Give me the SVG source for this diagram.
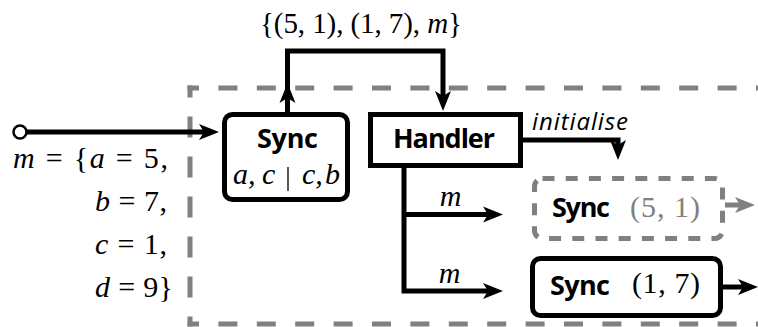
<svg xmlns="http://www.w3.org/2000/svg" width="758" height="327" viewBox="0 0 758 327">
<defs>
<path id="ah" d="M0,0 L-20,-8 L-15,0 L-20,8 Z"/>
</defs>
<style>
.box{fill:#fff;stroke:#000;stroke-width:5}
.dbox{fill:#fff;stroke:#808080;stroke-width:5;stroke-dasharray:12 11.2}
.edge{fill:none;stroke:#000;stroke-width:5}
.gedge{fill:none;stroke:#808080;stroke-width:5}
.frame{fill:none;stroke:#808080;stroke-width:5}
.sans{font-family:"Open Sans","Liberation Sans",sans-serif;font-weight:bold;font-size:27px;fill:#000}
.lab{font-family:"Open Sans","Liberation Sans",sans-serif;font-style:italic;font-size:24px;fill:#000}
.math{font-family:"Liberation Serif","DejaVu Serif",serif;font-size:30px;fill:#000}
.it{font-style:italic}
</style>
<rect width="758" height="327" fill="#fff"/>

<g id="frame">
<path class="frame" d="M187.5,88 H758" stroke-dasharray="19 19.4" stroke-dashoffset="7.5"/>
<path class="frame" d="M187.5,324 H758" stroke-dasharray="19 19.4" stroke-dashoffset="7.5"/>
<path class="frame" d="M190,85.5 V326.5" stroke-dasharray="21 19" stroke-dashoffset="9"/>
</g>

<g id="connectors">
<path class="edge" d="M27,132 H206"/>
<use href="#ah" transform="translate(219,132)"/>
<path class="edge" d="M287.5,114 V51 H443 V98"/>
<use href="#ah" transform="translate(287.5,83) rotate(-90)"/>
<use href="#ah" transform="translate(443,111) rotate(90)"/>
<path class="edge" d="M520,140 H618 V147"/>
<use href="#ah" transform="translate(618,160) rotate(90)"/>
<path class="edge" d="M404,167 V291 H490"/>
<use href="#ah" transform="translate(503,291)"/>
<path class="edge" d="M404,214.5 H490"/>
<use href="#ah" transform="translate(503,214.5)"/>
<path class="gedge" d="M725,205 H742"/>
<use href="#ah" transform="translate(755,205)" fill="#808080"/>
<path class="edge" d="M723,287 H745"/>
<use href="#ah" transform="translate(758,287)"/>
<text class="math" x="260" y="33" textLength="202" style="font-size:29px">{(5, 1), (1, 7), <tspan class="it">m</tspan>}</text>
<text class="lab" x="532" y="130" textLength="96">initialise</text>
<text class="math it" x="450.5" y="206" text-anchor="middle" textLength="25">m</text>
<text class="math it" x="449.5" y="283" text-anchor="middle" textLength="25">m</text>
</g>

<g id="start">
<circle cx="20" cy="132" r="6.5" fill="#fff" stroke="#000" stroke-width="2.5"/>
<text class="math" x="13" y="168" textLength="155"><tspan class="it">m</tspan> = {<tspan class="it">a</tspan> = 5,</text>
<text class="math" x="95" y="211" textLength="72"><tspan class="it">b</tspan> = 7,</text>
<text class="math" x="95" y="254" textLength="72"><tspan class="it">c</tspan> = 1,</text>
<text class="math" x="95" y="297" textLength="78"><tspan class="it">d</tspan> = 9}</text>
</g>

<g id="sync1">
<rect class="box" x="224.5" y="114.5" width="123" height="85" rx="8"/>
<text class="sans" x="287.5" y="148" text-anchor="middle" textLength="61">Sync</text>
<text class="math it" x="233" y="184">a,</text>
<text class="math it" x="262" y="184">c</text>
<line x1="288" y1="167" x2="288" y2="191" stroke="#000" stroke-width="1.3"/>
<text class="math it" x="302" y="184">c,</text>
<text class="math it" x="325" y="184">b</text>
</g>

<g id="handler">
<rect class="box" x="370.5" y="114.5" width="150" height="51"/>
<text class="sans" x="444" y="148" text-anchor="middle" textLength="102">Handler</text>
</g>

<g id="sync2">
<rect class="dbox" x="534.5" y="178.5" width="188" height="60" rx="8"/>
<text class="sans" x="552" y="217" textLength="58">Sync</text>
<text class="math" x="630" y="217" textLength="70" style="fill:#808080">(5, 1)</text>
</g>

<g id="sync3">
<rect class="box" x="532.5" y="258.5" width="188" height="57" rx="8"/>
<text class="sans" x="550" y="295" textLength="60">Sync</text>
<text class="math" x="632" y="293" textLength="68">(1, 7)</text>
</g>
</svg>
